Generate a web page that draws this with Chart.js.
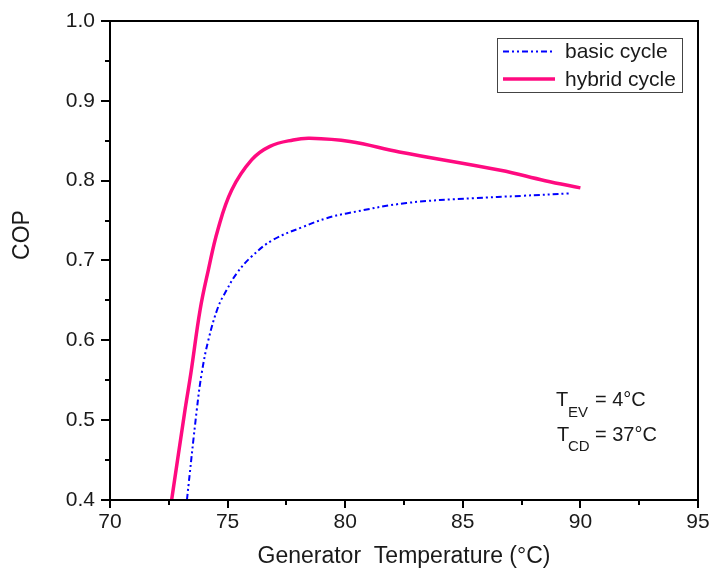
<!DOCTYPE html>
<html>
<head>
<meta charset="utf-8">
<script src="https://cdn.jsdelivr.net/npm/chart.js@4/dist/chart.umd.min.js"></script>
<style>
  html, body { margin: 0; padding: 0; background: #fff; }
  #chartDiv { width: 712px; height: 574px; }
</style>
</head>
<body>
<div id="chartDiv"><canvas id="myChart"></canvas></div>
<script>
const canvas = document.getElementById('myChart');
const fontFamily = '"Liberation Sans", Arial, sans-serif';
const textColor = '#1a1a1a';

// data
const basicTemp = [73.27, 73.69, 73.90, 74.18, 74.60, 74.96, 75.39, 76.02, 76.94, 78.2, 79.21, 80.06, 82.61, 85.44, 87.5, 89.5];
const basicCop = [0.400, 0.513, 0.559, 0.600, 0.642, 0.663, 0.684, 0.705, 0.726, 0.742, 0.753, 0.759, 0.772, 0.778, 0.781, 0.784];
const hybridTemp = [72.62, 73.19, 73.44, 73.83, 74.18, 74.58, 75.17, 76.02, 76.8, 77.79, 78.5, 80.2, 82.3, 86.6, 88.5, 90.0];
const hybridCop = [0.400, 0.513, 0.559, 0.638, 0.688, 0.738, 0.788, 0.826, 0.843, 0.851, 0.853, 0.849, 0.836, 0.813, 0.800, 0.791];
const seriesNames = ['basic cycle', 'hybrid cycle'];
const xTickValues = [70, 75, 80, 85, 90, 95];
const yTickValues = [0.4, 0.5, 0.6, 0.7, 0.8, 0.9, 1.0];

const toPoints = (xs, ys) => xs.map((x, i) => ({ x: x, y: ys[i] }));

const basicDash = [6, 3, 2, 3, 2, 3];

const frameAndExtras = {
    id: 'frameAndExtras',
    afterDraw(chart) {
        const ctx = chart.ctx;
        const area = chart.chartArea;
        const xs = chart.scales.x;
        const ys = chart.scales.y;
        ctx.save();

        // frame
        ctx.strokeStyle = '#000';
        ctx.lineWidth = 2;
        ctx.strokeRect(area.left, area.top, area.right - area.left, area.bottom - area.top);

        // ticks (major + minor), outward
        ctx.beginPath();
        for (let v = xs.min; v <= xs.max + 1e-6; v += 2.5) {
            const px = Math.round(xs.getPixelForValue(v));
            const len = Math.abs(v % 5) < 1e-6 ? 8 : 5;
            ctx.moveTo(px, area.bottom);
            ctx.lineTo(px, area.bottom + len);
        }
        for (let i = 0; i <= 12; i++) {
            const v = ys.min + i * 0.05;
            const py = Math.round(ys.getPixelForValue(v));
            const len = i % 2 === 0 ? 9 : 5;
            ctx.moveTo(area.left, py);
            ctx.lineTo(area.left - len, py);
        }
        ctx.stroke();

        // y axis title
        ctx.fillStyle = textColor;
        ctx.font = '23px ' + fontFamily;
        ctx.textAlign = 'center';
        ctx.textBaseline = 'middle';
        ctx.translate(23, 235);
        ctx.rotate(-Math.PI / 2);
        ctx.fillText('COP', 0, 0);
        ctx.setTransform(1, 0, 0, 1, 0, 0);

        // legend box
        ctx.strokeStyle = '#444';
        ctx.lineWidth = 1;
        ctx.strokeRect(497.5, 38.5, 185, 54);
        const rows = [51.5, 79];
        chart.data.datasets.forEach((ds, i) => {
            ctx.beginPath();
            ctx.strokeStyle = ds.borderColor;
            ctx.lineWidth = ds.borderWidth;
            ctx.setLineDash(ds.borderDash || []);
            ctx.moveTo(503, rows[i]);
            ctx.lineTo(555, rows[i]);
            ctx.stroke();
            ctx.setLineDash([]);
            ctx.fillStyle = textColor;
            ctx.font = '21px ' + fontFamily;
            ctx.textAlign = 'left';
            ctx.textBaseline = 'middle';
            ctx.fillText(ds.label, 565, rows[i] + 1);
        });

        // operating conditions
        ctx.fillStyle = textColor;
        ctx.textAlign = 'left';
        ctx.textBaseline = 'alphabetic';
        ctx.font = '20px ' + fontFamily;
        ctx.fillText('T', 556, 406);
        ctx.fillText('= 4°C', 595, 406);
        ctx.fillText('T', 557, 441);
        ctx.fillText('= 37°C', 595, 441);
        ctx.font = '15px ' + fontFamily;
        ctx.fillText('EV', 568, 417);
        ctx.fillText('CD', 568, 451);

        ctx.restore();
    }
};

const config = {
    type: 'scatter',
    data: {
        datasets: [{
            label: seriesNames[0],
            data: toPoints(basicTemp, basicCop),
            showLine: true,
            borderColor: '#0000ff',
            backgroundColor: '#0000ff',
            borderWidth: 2,
            borderDash: basicDash,
            pointRadius: 0,
            tension: 0.4
        }, {
            label: seriesNames[1],
            data: toPoints(hybridTemp, hybridCop),
            showLine: true,
            borderColor: '#ff0a80',
            backgroundColor: '#ff0a80',
            borderWidth: 3.5,
            pointRadius: 0,
            tension: 0.4
        }]
    },
    options: {
        responsive: true,
        maintainAspectRatio: false,
        animation: false,
        devicePixelRatio: 1,
        layout: {
            padding: { top: 21, right: 14, left: 0, bottom: 0 }
        },
        plugins: {
            legend: { display: false },
            tooltip: { enabled: false }
        },
        scales: {
            x: {
                type: 'linear',
                min: 70,
                max: 95,
                afterBuildTicks: scale => {
                    scale.ticks = xTickValues.map(v => ({ value: v }));
                },
                afterFit: scale => {
                    scale.height = 74;
                    scale.paddingLeft = 0;
                    scale.paddingRight = 0;
                },
                grid: { display: false, drawTicks: false },
                border: { display: false },
                ticks: {
                    padding: 10,
                    color: textColor,
                    font: { family: fontFamily, size: 21 },
                    maxRotation: 0
                },
                title: {
                    display: true,
                    text: 'Generator  Temperature (°C)',
                    color: textColor,
                    font: { family: fontFamily, size: 23 },
                    padding: { top: 0, bottom: 4 }
                }
            },
            y: {
                type: 'linear',
                min: 0.4,
                max: 1.0,
                afterBuildTicks: scale => {
                    scale.ticks = yTickValues.map(v => ({ value: v }));
                },
                afterFit: scale => {
                    scale.width = 110;
                    scale.paddingTop = 0;
                    scale.paddingBottom = 0;
                },
                grid: { display: false, drawTicks: false },
                border: { display: false },
                ticks: {
                    padding: 15,
                    color: textColor,
                    font: { family: fontFamily, size: 21 },
                    callback: v => Number(v).toFixed(1)
                }
            }
        }
    },
    plugins: [frameAndExtras]
};

const myChart = new Chart(canvas, config);
</script>
</body>
</html>
